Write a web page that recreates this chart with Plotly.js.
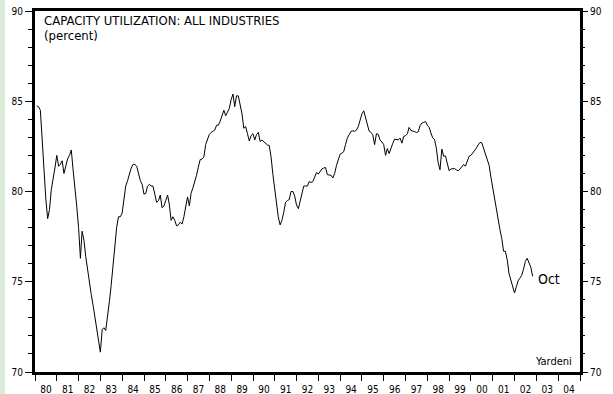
<!DOCTYPE html>
<html>
<head>
<meta charset="utf-8">
<script src="https://cdn.plot.ly/plotly-3.0.1.min.js"></script>
<style>html,body{margin:0;padding:0;background:#fff;}#chart{width:613px;height:394px;}</style>
</head>
<body>
<div id="chart"></div>
<script>
// Capacity utilization: all industries (percent), monthly Jan 1980 - Oct 2002
const cu1980s = [
  84.74, 84.7, 84.5, 82.8, 81.0, 79.6, 78.5, 79.0, 80.1, 80.65, 81.3, 82.0,
  81.4, 81.5, 81.7, 81.0, 81.4, 81.8, 82.0, 82.3, 81.2, 80.3, 79.2, 78.0,
  76.3, 77.8, 77.3, 76.4, 75.6, 75.1, 74.3, 73.7, 73.1, 72.35, 71.95, 71.1,
  72.35, 72.45, 72.3, 73.0, 73.9, 74.8, 75.9, 77.0, 78.0, 78.6, 78.6, 78.8,
  79.7, 80.3, 80.6, 81.0, 81.3, 81.5, 81.5, 81.4, 81.0, 80.6, 80.4, 79.85,
  79.9, 80.3, 80.4, 80.3, 80.3, 79.9, 79.4, 79.5, 79.8, 79.1, 79.2, 79.5,
  79.8, 79.3, 78.4, 78.6, 78.4, 78.1, 78.15, 78.3, 78.2, 78.6, 79.1, 79.7,
  79.2, 79.9, 80.2, 80.5, 80.9, 81.35, 81.77, 81.8, 81.9, 82.6, 82.95, 83.17,
  83.27, 83.32, 83.4, 83.67, 83.68, 83.9, 84.2, 84.5, 84.2, 84.4, 84.6, 85.1,
  85.4, 84.7, 85.3, 85.3, 84.8, 84.3, 83.5, 83.6, 83.2, 82.8, 83.1, 83.2
];
const cu1990s = [
  82.86, 83.15, 83.27, 82.77, 82.85, 82.75, 82.65, 82.58, 82.55, 81.9, 80.95, 80.15,
  79.45, 78.6, 78.15, 78.4, 78.85, 79.4, 79.5, 79.55, 80.0, 80.0, 79.75, 79.25,
  79.05, 79.45, 79.85, 80.3, 80.3, 80.3, 80.55, 80.5, 80.55, 80.8, 81.05, 80.97,
  81.15, 81.25, 81.3, 81.33, 80.93, 80.9, 80.9, 80.75, 81.0, 81.45, 81.8, 82.07,
  82.13, 82.2, 82.6, 82.95, 83.15, 83.33, 83.36, 83.33, 83.4, 83.6, 83.95, 84.3,
  84.47, 84.16, 83.75, 83.35, 83.28, 83.15, 82.6, 83.2, 83.17, 82.85, 82.74, 82.6,
  82.0, 82.38, 82.1, 82.45, 82.67, 82.9, 82.88, 82.86, 82.96, 82.68, 83.05, 83.09,
  83.2, 83.55, 83.38, 83.37, 83.32, 83.27, 83.3, 83.65, 83.79, 83.83, 83.88, 83.67,
  83.55, 83.25, 82.97, 82.88, 82.4, 81.6, 81.2, 82.35, 81.96, 81.97, 81.5, 81.15,
  81.25, 81.27, 81.27, 81.2, 81.15, 81.24, 81.36, 81.5, 81.4, 81.7, 81.95, 82.0
];
const cu2000s = [
  82.12, 82.22, 82.4, 82.58, 82.72, 82.7, 82.35, 82.0, 81.75, 81.45, 80.8, 80.2,
  79.45, 78.9, 78.35, 77.9, 77.4, 76.69, 76.69, 76.2, 75.45, 75.05, 74.72, 74.38,
  74.73, 75.05, 75.2, 75.35, 75.7, 76.12, 76.3, 76.08, 75.8, 75.3
];
const firstYear = 1980;
const axisStart = '1980-01-01';
const axisEnd = '2005-01-01';
const yMin = 70, yMax = 90;
const titleLine1 = 'CAPACITY UTILIZATION: ALL INDUSTRIES';
const titleLine2 = '(percent)';
const lastLabel = 'Oct';
const sourceLabel = 'Yardeni';

const values = [].concat(cu1980s, cu1990s, cu2000s);
// each monthly reading is plotted at the end of its month
const dates = values.map(function (v, k) {
  return new Date(Date.UTC(firstYear, k + 1, 0)).toISOString().slice(0, 10);
});

const FONT = "'DejaVu Sans Condensed', 'Liberation Sans Narrow', sans-serif";

const trace = {
  x: dates, y: values, type: 'scatter', mode: 'lines',
  line: {color: '#000', width: 1}, hoverinfo: 'skip'
};
const ghost = {
  x: [dates[0]], y: [values[0]], type: 'scatter', mode: 'lines',
  yaxis: 'y2', line: {color: 'rgba(0,0,0,0)'}, hoverinfo: 'skip'
};

const minorY = {dtick: 1, ticks: 'outside', ticklen: 4, tickwidth: 1, tickcolor: '#000'};

const layout = {
  width: 613, height: 394,
  margin: {l: 35, r: 33, t: 11, b: 22, pad: 0},
  paper_bgcolor: '#fff', plot_bgcolor: '#fff',
  showlegend: false,
  font: {family: FONT, size: 10, color: '#000'},
  xaxis: {
    type: 'date', range: [axisStart, axisEnd], dtick: 'M12', tick0: axisStart,
    tickformat: '%y', ticklabelmode: 'period',
    ticks: 'outside', ticklen: 6, tickwidth: 1, tickcolor: '#000',
    showline: true, linewidth: 3, linecolor: '#000', mirror: true,
    showgrid: false, zeroline: false, tickfont: {family: FONT, size: 10, color: '#000'}
  },
  yaxis: {
    range: [yMin, yMax], dtick: 5, tick0: 70,
    ticks: 'outside', ticklen: 7, tickwidth: 1, tickcolor: '#000',
    showline: true, linewidth: 3, linecolor: '#000', mirror: true,
    showgrid: false, zeroline: false, minor: minorY,
    tickfont: {family: FONT, size: 10, color: '#000'}
  },
  yaxis2: {
    overlaying: 'y', side: 'right', range: [yMin, yMax], dtick: 5, tick0: 70,
    ticks: 'outside', ticklen: 7, tickwidth: 1, tickcolor: '#000',
    showline: false, showgrid: false, zeroline: false, minor: minorY,
    tickfont: {family: FONT, size: 10, color: '#000'}
  },
  shapes: [{
    type: 'rect', xref: 'paper', yref: 'paper', layer: 'below',
    x0: -35 / 545, x1: -30 / 545, y0: -0.07, y1: 1.04,
    fillcolor: '#DAEBDA', line: {width: 0}
  }],
  annotations: [
    {xref: 'paper', yref: 'paper', x: 0, y: 0.974, xshift: 8, xanchor: 'left', yanchor: 'middle',
     borderpad: 0, text: titleLine1, showarrow: false, font: {family: FONT, size: 13, color: '#000'}},
    {xref: 'paper', yref: 'paper', x: 0, y: 0.931, xshift: 8, xanchor: 'left', yanchor: 'middle',
     borderpad: 0, text: titleLine2, showarrow: false, font: {family: FONT, size: 13, color: '#000'}},
    {xref: 'x', yref: 'y', x: dates[dates.length - 1], y: values[values.length - 1],
     xshift: 3, yshift: -3, xanchor: 'left', yanchor: 'middle',
     text: lastLabel, showarrow: false, font: {family: FONT, size: 14, color: '#000'}},
    {xref: 'paper', yref: 'paper', x: 1, y: 0, xshift: -6, yshift: 2, xanchor: 'right', yanchor: 'bottom',
     text: sourceLabel, showarrow: false, font: {family: FONT, size: 11, color: '#000'}}
  ]
};

Plotly.newPlot('chart', [trace, ghost], layout, {staticPlot: true, displayModeBar: false});
</script>
</body>
</html>
